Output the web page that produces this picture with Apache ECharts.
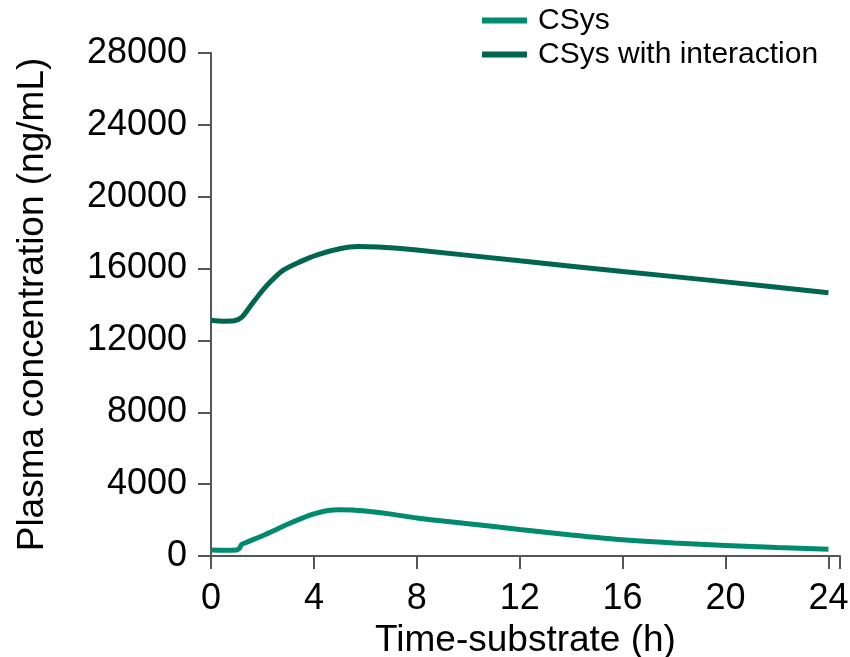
<!DOCTYPE html>
<html>
<head>
<meta charset="utf-8">
<script src="https://cdn.jsdelivr.net/npm/echarts@6/dist/echarts.min.js"></script>
<style>html,body{margin:0;padding:0;background:#fff}#c{width:850px;height:657px}</style>
</head>
<body>
<div id="c"></div>
<script>
var seriesNames = ['CSys', 'CSys with interaction'];
var csysTime = [0, 0.5, 1.0, 1.1, 1.2, 1.5, 2.0, 2.5, 3.0, 3.5, 4.0, 4.5, 5.0, 5.5, 6.0, 7.0, 8.0, 10, 12, 14, 16, 18, 20, 22, 24];
var csysValues = [330, 320, 330, 420, 650, 830, 1130, 1450, 1780, 2080, 2340, 2520, 2570, 2560, 2500, 2330, 2120, 1800, 1480, 1170, 900, 720, 590, 470, 370];
var interTime = [0, 0.5, 0.9, 1.2, 1.5, 1.9, 2.3, 2.8, 3.5, 4.1, 5.0, 5.7, 6.5, 8.0, 12, 16, 20, 24];
var interValues = [13120, 13070, 13090, 13300, 13850, 14600, 15250, 15900, 16400, 16750, 17100, 17230, 17200, 17030, 16430, 15840, 15260, 14650];
var xTicks = [0, 4, 8, 12, 16, 20, 24];
var yTicks = [0, 4000, 8000, 12000, 16000, 20000, 24000, 28000];

function pairs(t, v) { return t.map(function (x, i) { return [x, v[i]]; }); }

var axisColor = '#555555';
var font = 'Liberation Sans, Arial, sans-serif';
var chart = echarts.init(document.getElementById('c'));
chart.setOption({
  animation: false,
  textStyle: { fontFamily: font },
  grid: { left: 211, right: 10, top: 53, bottom: 101, containLabel: false, outerBoundsMode: 'none' },
  legend: {
    orient: 'vertical', left: 477, top: 0, itemWidth: 45, itemHeight: 6, itemGap: 3,
    icon: 'rect',
    textStyle: { fontSize: 30, color: '#000', fontFamily: font, lineHeight: 31, padding: [0, 0, 0, 6] },
    data: seriesNames
  },
  xAxis: {
    type: 'value', min: 0, max: 24.45, interval: 4,
    name: 'Time-substrate (h)', nameLocation: 'middle', nameGap: 58,
    nameTextStyle: { fontSize: 37, color: '#000', fontFamily: font },
    axisLine: { show: true, lineStyle: { color: axisColor, width: 2 } },
    axisTick: { show: true, length: 13, lineStyle: { color: axisColor, width: 2 } },
    axisLabel: { fontSize: 36, color: '#000', margin: 25, fontFamily: font,
      formatter: function (v) { return xTicks.indexOf(v) >= 0 ? String(v) : ''; } },
    splitLine: { show: false }
  },
  yAxis: {
    type: 'value', min: 0, max: 28000, interval: 4000,
    name: 'Plasma concentration (ng/mL)', nameLocation: 'middle', nameGap: 160,
    nameTextStyle: { fontSize: 37, color: '#000', fontFamily: font },
    axisLine: { show: true, lineStyle: { color: axisColor, width: 2 } },
    axisTick: { show: true, length: 13, lineStyle: { color: axisColor, width: 2 } },
    axisLabel: { fontSize: 36, color: '#000', margin: 24, fontFamily: font,
      formatter: function (v) { return yTicks.indexOf(v) >= 0 ? String(v) : ''; } },
    splitLine: { show: false }
  },
  series: [
    { name: seriesNames[0], type: 'line', data: pairs(csysTime, csysValues), smooth: 0.3,
      showSymbol: false, symbol: 'none', color: '#008A6E', lineStyle: { width: 5, color: '#008A6E' } },
    { name: seriesNames[1], type: 'line', data: pairs(interTime, interValues), smooth: 0.3,
      showSymbol: false, symbol: 'none', color: '#00664F', lineStyle: { width: 5, color: '#00664F' } }
  ]
});
</script>
</body>
</html>
